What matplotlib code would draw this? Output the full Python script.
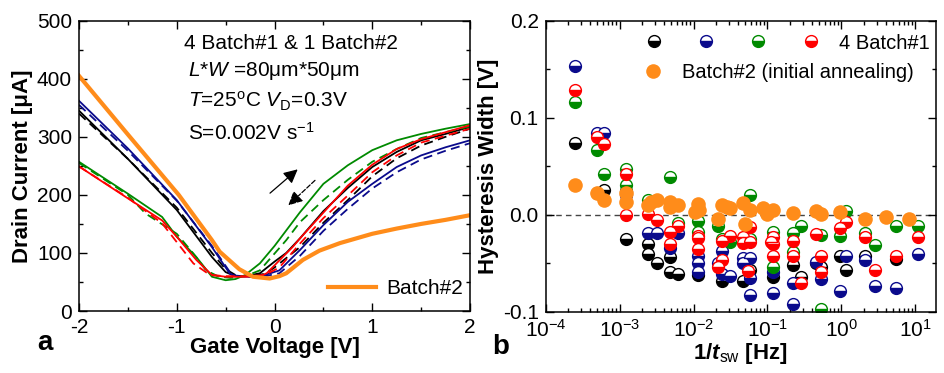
import numpy as np
import matplotlib
matplotlib.use('Agg')
import matplotlib.pyplot as plt
from matplotlib.ticker import MultipleLocator, LogLocator, NullFormatter
from matplotlib.legend_handler import HandlerTuple

plt.rcParams['font.family'] = ['Liberation Sans', 'DejaVu Sans']
plt.rcParams['mathtext.fontset'] = 'custom'
plt.rcParams['mathtext.rm'] = 'Liberation Sans'
plt.rcParams['mathtext.it'] = 'Liberation Sans:italic'
plt.rcParams['mathtext.bf'] = 'Liberation Sans:bold'
plt.rcParams['mathtext.bfit'] = 'Liberation Sans:italic:bold'
plt.rcParams['axes.unicode_minus'] = False

BLK = '#000000'
BLU = '#0a0a8c'
GRN = '#008a00'
RED = '#ff0000'
ORG = '#ff8c1a'

# ---- panel a: transfer curves (V_G [V], I_D [uA]) ----
v_blk_s = [-2, -1.5, -1, -0.64, -0.5, -0.4, -0.3, -0.15, 0, 0.12, 0.26, 0.5, 0.75, 1, 1.25, 1.5, 1.75, 2]
i_blk_s = [345, 262, 174, 93, 67, 60, 60, 65, 85, 100, 125, 172, 212, 248, 274, 294, 305, 317]
v_blk_d = [-2, -1.5, -1, -0.64, -0.5, -0.38, -0.25, -0.1, 0, 0.26, 0.5, 0.75, 1, 1.25, 1.5, 1.75, 2]
i_blk_d = [340, 262, 178, 100, 72, 60, 60, 64, 75, 110, 152, 191, 232, 263, 285, 300, 314]

v_blu_s = [-2, -1.5, -1, -0.64, -0.46, -0.4, -0.25, -0.1, 0.05, 0.26, 0.5, 0.75, 1, 1.25, 1.5, 1.75, 2]
i_blu_s = [362, 280, 191, 110, 65, 60, 59, 62, 70, 105, 148, 188, 219, 248, 268, 282, 294]
v_blu_d = [-2, -1.5, -1, -0.64, -0.46, -0.4, -0.25, -0.1, 0.05, 0.26, 0.5, 0.75, 1, 1.25, 1.5, 1.75, 2]
i_blu_d = [355, 276, 190, 112, 68, 61, 59, 60, 65, 95, 138, 176, 211, 239, 261, 276, 289]

v_grn_s = [-2, -1.5, -1.15, -1, -0.8, -0.64, -0.5, -0.4, -0.3, -0.15, 0, 0.26, 0.5, 0.75, 1, 1.25, 1.5, 1.75, 2]
i_grn_s = [257, 202, 162, 128, 93, 59, 53, 55, 62, 82, 112, 170, 219, 251, 277, 294, 305, 314, 322]
v_grn_d = [-2, -1.5, -1.32, -1, -0.83, -0.7, -0.57, -0.45, -0.3, -0.15, 0.12, 0.26, 0.5, 0.75, 1, 1.25, 1.5, 1.75, 2]
i_grn_d = [255, 200, 168, 133, 99, 70, 59, 57, 60, 70, 122, 153, 191, 226, 257, 279, 298, 308, 318]

v_red_s = [-2, -1.5, -1.15, -1, -0.8, -0.64, -0.5, -0.3, -0.15, -0.08, 0.19, 0.26, 0.53, 0.75, 1, 1.25, 1.5, 1.75, 2]
i_red_s = [249, 194, 156, 128, 88, 62, 59, 59, 60, 65, 111, 125, 175, 216, 252, 279, 296, 308, 320]
v_red_d = [-2, -1.5, -1.15, -0.83, -0.66, -0.5, -0.3, -0.1, 0.05, 0.26, 0.5, 0.75, 1, 1.25, 1.5, 1.75, 2]
i_red_d = [249, 195, 151, 82, 62, 60, 60, 62, 75, 116, 160, 199, 239, 268, 290, 302, 314]

v_org = [-2, -1.49, -0.98, -0.64, -0.56, -0.36, -0.22, -0.05, 0.05, 0.12, 0.29, 0.46, 0.67, 1.0, 1.25, 1.5, 1.75, 2.0]
i_org = [405, 302, 200, 122, 102, 72, 59, 56, 60, 65, 88, 104, 117, 133, 142, 150, 157, 165]

# ---- panel b: hysteresis width vs 1/t_sw ----
f_blk = [2.5e-4, 5e-4, 6.1e-4, 1.24e-3, 1.24e-3, 2.44e-3, 2.44e-3, 3.16e-3, 4.8e-3, 4.8e-3, 6.2e-3, 1.16e-2,
         2.4e-2, 4.7e-2, 5.8e-2, 0.119, 0.222, 0.288, 0.459, 0.537, 0.95, 1.17, 2.07, 5.54]
h_blk = [0.074, 0.022, 0.026, 0.025, -0.025, -0.030, -0.040, -0.050, -0.044, -0.059, -0.061, -0.062,
         -0.068, -0.068, -0.057, -0.064, -0.052, -0.064, -0.050, -0.054, -0.042, -0.057, -0.043, -0.046]

f_blu = [2.5e-4, 5e-4, 6.2e-4, 1.24e-3, 2.44e-3, 3.16e-3, 4.8e-3, 6.2e-3, 1.16e-2, 1.16e-2, 1.16e-2, 2.15e-2,
         2.4e-2, 2.4e-2, 3.1e-2, 4.7e-2, 4.7e-2, 5.8e-2, 5.8e-2, 5.8e-2, 0.119, 0.119, 0.222, 0.222, 0.459,
         0.537, 0.95, 1.17, 2.07, 2.82, 5.54, 10.9]
h_blu = [0.154, 0.084, 0.084, 0.020, -0.019, -0.019, -0.034, -0.019, -0.043, -0.050, -0.059, -0.050,
         -0.037, -0.061, -0.063, -0.045, -0.050, -0.045, -0.065, -0.083, -0.059, -0.081, -0.070, -0.092, -0.049,
         -0.066, -0.079, -0.043, -0.047, -0.073, -0.076, -0.040]

f_grn = [2.5e-4, 5e-4, 6.2e-4, 1.24e-3, 1.24e-3, 2.44e-3, 4.8e-3, 6.2e-3, 1.16e-2, 1.16e-2, 2.15e-2, 2.4e-2,
         3.1e-2, 5.8e-2, 5.8e-2, 0.119, 0.119, 0.222, 0.222, 0.288, 0.537, 0.537, 0.95, 1.17, 2.07, 2.82,
         5.54, 10.9]
h_grn = [0.116, 0.067, 0.042, 0.047, 0.031, 0.015, 0.039, -0.008, -0.006, -0.018, -0.012, -0.025,
         -0.028, 0.020, -0.025, -0.018, -0.054, -0.019, -0.038, -0.012, -0.021, -0.097, -0.022, 0.004, -0.019, -0.031,
         -0.012, -0.012]

f_red = [2.5e-4, 5e-4, 6.2e-4, 1.24e-3, 1.24e-3, 2.44e-3, 3.16e-3, 4.8e-3, 4.8e-3, 6.2e-3, 1.16e-2, 1.16e-2,
         1.16e-2, 2.15e-2, 2.4e-2, 2.4e-2, 3.1e-2, 4.7e-2, 4.7e-2, 5.8e-2, 5.8e-2, 5.5e-2, 0.119, 0.119, 0.119,
         0.11, 0.222, 0.222, 0.288, 0.459, 0.537, 0.537, 0.95, 1.17, 2.07, 2.82, 5.54, 10.9]
h_red = [0.129, 0.080, 0.073, 0.042, 0.0, 0.001, -0.005, -0.018, -0.030, -0.012, -0.022, -0.024,
         -0.035, -0.054, -0.027, -0.047, -0.022, -0.023, -0.029, -0.013, -0.028, -0.058, -0.023, -0.030, -0.043,
         -0.028, -0.027, -0.042, -0.070, -0.020, -0.043, -0.059, -0.014, -0.007, -0.023, -0.057, -0.043, -0.023]

f_org = [2.5e-4, 5e-4, 6.2e-4, 1.24e-3, 1.24e-3, 2.44e-3, 2.7e-3, 3.16e-3, 4.8e-3, 4.8e-3, 6.2e-3, 1.05e-2,
         1.16e-2, 1.2e-2, 2.15e-2, 2.4e-2, 2.8e-2, 3.1e-2, 4.7e-2, 5e-2, 5.8e-2, 8.7e-2, 0.1, 0.119, 0.222,
         0.459, 0.537, 0.95, 2.07, 4.06, 8.3]
h_org = [0.031, 0.023, 0.015, 0.022, 0.013, 0.010, 0.013, 0.015, 0.013, 0.008, 0.010, 0.003,
         0.011, 0.005, -0.004, 0.010, 0.008, 0.007, 0.012, -0.009, 0.005, 0.007, 0.001, 0.005, 0.002,
         0.004, 0.001, 0.003, -0.004, -0.002, -0.004]


def style_axis(ax):
    for s in ax.spines.values():
        s.set_linewidth(1.1)
    ax.tick_params(which='both', direction='in', top=True, right=True, labelsize=15, pad=5)
    ax.tick_params(which='major', length=5.5, width=1)
    ax.tick_params(which='minor', length=3, width=1)


fig = plt.figure(figsize=(9.44, 3.73), dpi=100)

# ---------------- panel a ----------------
ax = fig.add_axes([0.0837, 0.1662, 0.4142, 0.7783])
dash = (0, (5, 3))
ax.plot(v_blk_s, i_blk_s, color=BLK, lw=1.3)
ax.plot(v_blk_d, i_blk_d, color=BLK, lw=1.3, ls=dash)
ax.plot(v_blu_s, i_blu_s, color=BLU, lw=1.3)
ax.plot(v_blu_d, i_blu_d, color=BLU, lw=1.3, ls=dash)
ax.plot(v_grn_s, i_grn_s, color=GRN, lw=1.3)
ax.plot(v_grn_d, i_grn_d, color=GRN, lw=1.3, ls=dash)
ax.plot(v_red_s, i_red_s, color=RED, lw=1.3)
ax.plot(v_red_d, i_red_d, color=RED, lw=1.3, ls=dash)
ln_org, = ax.plot(v_org, i_org, color=ORG, lw=3, label='Batch#2')

ax.set_xlim(-2, 2)
ax.set_ylim(0, 500)
ax.xaxis.set_major_locator(MultipleLocator(1))
ax.xaxis.set_minor_locator(MultipleLocator(0.5))
ax.yaxis.set_major_locator(MultipleLocator(100))
ax.yaxis.set_minor_locator(MultipleLocator(50))
style_axis(ax)
ax.set_xlabel('Gate Voltage [V]', fontsize=16, fontweight='bold', labelpad=0)
ax.set_ylabel('Drain Current [μA]', fontsize=16, fontweight='bold', labelpad=3)

ax.text(-0.93, 451, '4 Batch#1 & 1 Batch#2', fontsize=15, va='baseline')
ax.text(-0.89, 404, '$L$*$W$ =80μm*50μm', fontsize=15, va='baseline')
ax.text(-0.89, 351, '$T$=25$^{\\mathrm{o}}$C $V_{\\mathrm{D}}$=0.3V', fontsize=15, va='baseline')
ax.text(-0.89, 295, 'S=0.002V s$^{\\mathrm{-1}}$', fontsize=15, va='baseline')

ax.annotate('', xy=(0.237, 244), xytext=(-0.046, 203),
            arrowprops=dict(arrowstyle='-|>,head_length=0.6,head_width=0.3', color='k', lw=0.9,
                            mutation_scale=14, shrinkA=0, shrinkB=0))
ax.annotate('', xy=(0.141, 182), xytext=(0.414, 225),
            arrowprops=dict(arrowstyle='-|>,head_length=0.6,head_width=0.3', color='k', lw=0.9,
                            ls='--', mutation_scale=14, shrinkA=0, shrinkB=0))

ax.legend(handles=[ln_org], loc='upper left', bbox_to_anchor=(0.637, 0.11), frameon=False,
          fontsize=15, handlelength=2.3, handletextpad=0.5, borderpad=0, borderaxespad=0)

# ---------------- panel b ----------------
bx = fig.add_axes([0.578, 0.1643, 0.4135, 0.7794])
mk = dict(ls='none', marker='o', ms=8.5, mew=1.0, fillstyle='bottom', markerfacecoloralt='white')
p_blk, = bx.plot(f_blk, h_blk, color=BLK, mec=BLK, **mk)
p_blu, = bx.plot(f_blu, h_blu, color=BLU, mec=BLU, **mk)
p_grn, = bx.plot(f_grn, h_grn, color=GRN, mec=GRN, **mk)
p_red, = bx.plot(f_red, h_red, color=RED, mec=RED, **mk)
p_org, = bx.plot(f_org, h_org, ls='none', marker='o', ms=10.5, color=ORG, mec=ORG, mew=0)
bx.axhline(0, color='#444444', lw=1, ls=(0, (4, 3)), zorder=0)

bx.set_xscale('log')
bx.set_xlim(1e-4, 19)
bx.set_ylim(-0.1, 0.2)
bx.xaxis.set_major_locator(LogLocator(base=10, numticks=10))
bx.xaxis.set_minor_locator(LogLocator(base=10, subs=np.arange(2, 10), numticks=20))
bx.xaxis.set_minor_formatter(NullFormatter())
bx.yaxis.set_major_locator(MultipleLocator(0.1))
bx.yaxis.set_minor_locator(MultipleLocator(0.05))
bx.yaxis.set_major_formatter(plt.FormatStrFormatter('%.1f'))
style_axis(bx)
bx.set_xlabel('1/$\\mathbfit{t}_{\\mathrm{sw}}$ [Hz]', fontsize=16, fontweight='bold', labelpad=0)
bx.set_ylabel('Hysteresis Width [V]', fontsize=16, fontweight='bold', labelpad=3)

leg1 = bx.legend(handles=[(p_blk, p_blu, p_grn, p_red)], labels=['4 Batch#1'],
                 handler_map={tuple: HandlerTuple(ndivide=None, pad=0)},
                 loc='upper left', bbox_to_anchor=(0.2096, 0.957), frameon=False, fontsize=14.5,
                 handlelength=10.4, handletextpad=0.1, borderpad=0, borderaxespad=0)
bx.add_artist(leg1)
bx.legend(handles=[p_org], labels=['Batch#2 (initial annealing)'], loc='upper left',
          bbox_to_anchor=(0.2493, 0.857), frameon=False, fontsize=14.5, handlelength=1.0,
          handletextpad=0.96, borderpad=0, borderaxespad=0)

fig.text(0.048, 0.08, 'a', fontsize=20, fontweight='bold', ha='center', va='center')
fig.text(0.530, 0.07, 'b', fontsize=20, fontweight='bold', ha='center', va='center')

fig.savefig('out.png', dpi=100)
